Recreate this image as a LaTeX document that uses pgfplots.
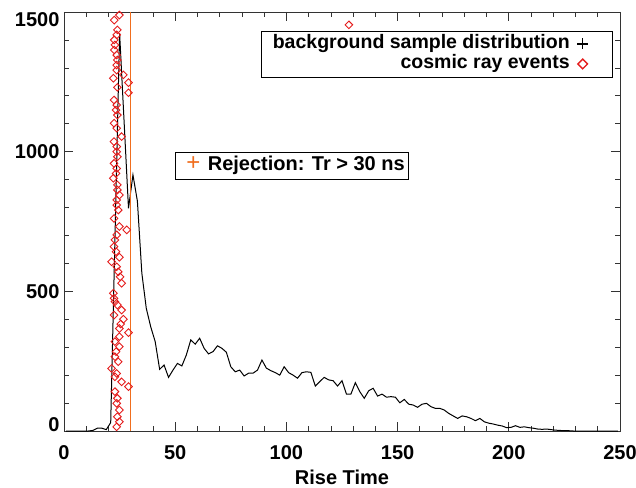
\documentclass[border=0pt]{standalone}
\usepackage{pgfplots}
\pgfplotsset{compat=1.18}
\usepackage{fontspec}
\setmainfont{Liberation Sans}
\definecolor{rejorange}{RGB}{240,110,30}
\definecolor{cosred}{RGB}{228,28,28}
\begin{document}
\begin{tikzpicture}
\begin{axis}[
  scale only axis, width=556pt, height=419pt,
  xmin=0, xmax=250, ymin=0, ymax=1500,
  xtick={0,50,...,250}, minor x tick num=4,
  ytick={0,500,1000,1500}, minor y tick num=4,
  yticklabels={{\raisebox{0pt}[0pt][0pt]{0}},{\raisebox{-7.2pt}[0pt][0pt]{500}},{\raisebox{-7.2pt}[0pt][0pt]{1000}},{\raisebox{-14.5pt}[0pt][0pt]{1500}}},
  tick align=inside, major tick length=9pt, minor tick length=5pt,
  axis line style={line width=0.8pt, black!80},
  tick style={line width=0.7pt, black!80},
  ticklabel style={font=\fontsize{20}{24}\selectfont\bfseries},
  xticklabel style={yshift=-11pt},
  yticklabel style={xshift=-1pt},
  /pgf/number format/assume math mode=true,
  /pgf/number format/1000 sep={},
  xlabel={Rise Time},
  xlabel style={font=\fontsize{20}{24}\selectfont\bfseries, yshift=-3pt},
  legend plot pos=right, legend cell align=right,
  legend style={at={(0.9874,0.9554)}, anchor=north east,
    font=\fontsize{19.5}{20}\selectfont\bfseries, draw=black, line width=0.6pt,
    inner xsep=10pt, inner ysep=3pt, row sep=0pt,
    nodes={text height=14pt, text depth=4pt, inner ysep=1pt},
    cells={anchor=east}},
]
\addplot[black, line width=1pt, forget plot] coordinates {
(1,0)(3,0)(5,0)(7,0)(9,0)(11,0)(13,2)(15,10)(17,10)(19,5)(21,30)(23,720)(25,1424)(27,1111)(29,797)
(31,917)(33,823)(35,565)(37,439)(39,373)(41,320)(43,221)(45,236)(47,192)(49,218)
(51,242)(53,233)(55,272)(57,326)(59,311)(61,332)(63,296)(65,276)(67,284)(69,305)
(71,296)(73,282)(75,230)(77,212)(79,218)(81,197)(83,207)(85,207)(87,218)(89,254)
(91,225)(93,216)(95,209)(97,200)(99,230)(101,209)(103,200)(105,189)(107,209)(109,212)
(111,210)(113,161)(115,177)(117,192)(119,183)(121,180)(123,161)(125,180)(127,132)(129,132)
(131,173)(133,141)(135,117)(137,144)(139,153)(141,125)(143,132)(145,121)(147,123)(149,121)
(151,101)(153,113)(155,96)(157,93)(159,85)(161,96)(163,99)(165,87)(167,81)(169,81)
(171,75)(173,63)(175,54)(177,45)(179,54)(181,51)(183,45)(185,37)(187,45)(189,33)
(191,28)(193,25)(195,21)(197,18)(199,12)(201,13)(203,19)(205,13)(207,15)(209,12)
(211,10)(213,7)(215,6)(217,7)(219,5)(221,3)(223,2)(225,1)(227,1)(229,0)
(231,0)(233,0)(235,0)(237,0)(239,0)(241,0)(243,0)(245,0)(247,0)(249,0)
};
\addplot[only marks, mark=square, mark size=2.7pt, mark options={cosred, line width=0.9pt, rotate=45}, forget plot] coordinates {
(24.9,1489)(22.6,1471)(24.0,1436)(23.7,1418)(22.6,1400)(22.9,1382)(22.6,1364)(23.7,1346)
(24.0,1328)(23.7,1310)(23.7,1292)(26.7,1275)(22.2,1263)(29.0,1247)(24.0,1230)(29.0,1211)
(22.5,1185)(23.7,1167)(23.4,1149)(24.0,1131)(22.5,1102)(23.7,1084)(25.9,1054)(22.5,1036)
(23.7,1018)(23.7,1000)(24.0,982)(22.5,958)(23.7,940)(23.4,922)(22.2,905)(24.0,881)
(24.0,863)(24.9,845)(23.7,827)(23.7,809)(24.4,791)(22.5,761)(24.9,732)(28.2,720)
(23.7,702)(22.9,684)(22.5,660)(23.4,642)(24.9,622)(21.4,606)(23.7,588)(24.4,570)
(25.2,552)(25.9,529)(22.2,493)(22.5,475)(22.9,463)(24.0,451)(25.9,433)(22.5,415)
(26.7,400)(25.5,383)(24.9,367)(29.0,352)(24.9,338)(22.9,320)(24.9,302)(23.4,284)
(22.9,266)(24.4,248)(21.4,224)(23.7,206)(22.9,194)(25.9,176)(29.0,159)(22.9,141)
(24.0,117)(23.7,99)(24.9,75)(24.0,51)(24.9,33)(23.7,15)(128.1,1454)
};
\addplot[rejorange, line width=0.9pt, forget plot] coordinates {(30,0) (30,1500)};
\addlegendimage{legend image code/.code={\path[draw=none, fill=none] (0pt,0pt) -- (31pt,0pt);
  \draw[black, line width=1.2pt] plot[mark=+, mark size=5.5pt] coordinates {(11pt,0pt)};}}
\addlegendentry{background sample distribution}
\addlegendimage{legend image code/.code={\path[draw=none, fill=none] (0pt,0pt) -- (31pt,0pt);
  \draw[cosred, line width=1.4pt] plot[mark=square, mark size=3.4pt, mark options={rotate=45}] coordinates {(11pt,0pt)};}}
\addlegendentry{cosmic ray events}
\node[draw=black, line width=0.6pt, anchor=north west, inner xsep=4pt, inner ysep=4pt,
  text height=15pt, text depth=4pt,
  font=\fontsize{20}{20}\selectfont\bfseries]
  at (rel axis cs:0.1996,0.6666) {\hspace{7pt}{\color{rejorange}\fontsize{24}{24}\selectfont\mdseries +}\hspace{2pt}\ Rejection: Tr > 30 ns};
\coordinate (bl) at (rel axis cs:0,0);
\coordinate (tr) at (rel axis cs:1,1);
\end{axis}
\pgfresetboundingbox
\path[use as bounding box] ([shift={(-64pt,-56pt)}]bl) rectangle ([shift={(16pt,12pt)}]tr);
\end{tikzpicture}
\end{document}
